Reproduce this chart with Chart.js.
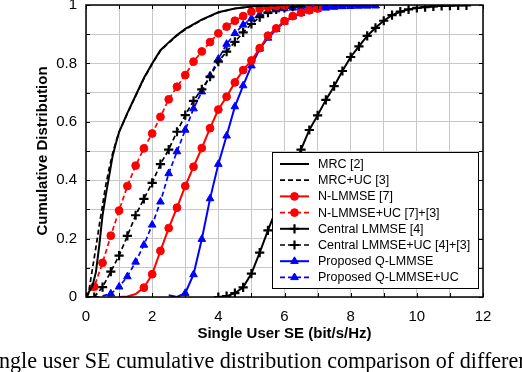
<!DOCTYPE html>
<html lang="en">
<head>
  <meta charset="UTF-8">
  <title>Single user SE cumulative distribution</title>
  <script src="https://cdn.jsdelivr.net/npm/chart.js"></script>
  <style>
    html, body { margin: 0; padding: 0; background: #fff; }
    #wrap { position: relative; width: 522px; height: 372px; overflow: hidden; }
    #caption {
      position: absolute; left: -19.5px; top: 350px;
      font-family: "Liberation Serif", "Times New Roman", serif;
      font-size: 22.1px; line-height: 1; white-space: nowrap; color: #000;
    }
  </style>
</head>
<body>
  <div id="wrap">
    <canvas id="cdfChart" width="522" height="372"></canvas>
    <div id="caption">Single user SE cumulative distribution comparison of different</div>
  </div>

  <script>
    // values (x = SE in bit/s/Hz, y = CDF)
    const mrcX = [0, 0.1, 0.2, 0.3, 0.4, 0.5, 0.6, 0.7, 0.8, 0.9, 1.0, 1.25, 1.5, 1.75, 2.0, 2.25, 2.5, 2.75, 3.0, 3.5, 4.0, 4.5, 5.0, 5.5, 6.0];
    const mrcY = [0, 0.02, 0.04, 0.085, 0.175, 0.28, 0.35, 0.415, 0.48, 0.525, 0.565, 0.63, 0.69, 0.75, 0.80, 0.845, 0.872, 0.897, 0.918, 0.95, 0.975, 0.988, 0.995, 0.998, 1.0];

    const mrcUcX = [0, 0.05, 0.1, 0.2, 0.3, 0.4, 0.5, 0.6, 0.7, 0.8, 0.9, 1.0, 1.25, 1.5, 1.75, 2.0, 2.25, 2.5, 2.75, 3.0, 3.5, 4.0, 4.5, 5.0, 5.5, 6.0];
    const mrcUcY = [0, 0.005, 0.03, 0.1, 0.17, 0.245, 0.315, 0.385, 0.44, 0.49, 0.53, 0.565, 0.628, 0.688, 0.748, 0.798, 0.843, 0.87, 0.895, 0.916, 0.949, 0.974, 0.988, 0.995, 0.998, 1.0];

    const nlX = [1.0, 1.25, 1.5, 1.75, 2.0, 2.25, 2.5, 2.75, 3.0, 3.25, 3.5, 3.75, 4.0, 4.25, 4.5, 4.75, 5.0, 5.25, 5.5, 5.75, 6.0, 6.25, 6.5, 6.75, 7.0];
    const nlY = [0, 0.002, 0.01, 0.032, 0.078, 0.158, 0.236, 0.306, 0.38, 0.446, 0.51, 0.578, 0.642, 0.686, 0.735, 0.777, 0.81, 0.852, 0.895, 0.92, 0.945, 0.962, 0.974, 0.982, 0.988];

    const nlUcX = [0, 0.25, 0.5, 0.75, 1.0, 1.25, 1.5, 1.75, 2.0, 2.25, 2.5, 2.75, 3.0, 3.25, 3.5, 3.75, 4.0, 4.25, 4.5, 4.75, 5.0, 5.25, 5.5, 5.75, 6.0];
    const nlUcY = [0, 0.035, 0.117, 0.21, 0.296, 0.38, 0.45, 0.509, 0.56, 0.617, 0.677, 0.72, 0.76, 0.806, 0.841, 0.873, 0.903, 0.926, 0.946, 0.962, 0.977, 0.987, 0.992, 0.996, 0.998];

    const clX = [4.0, 4.25, 4.5, 4.75, 5.0, 5.25, 5.5, 5.75, 6.0, 6.25, 6.5, 6.75, 7.0, 7.25, 7.5, 7.75, 8.0, 8.25, 8.5, 8.75, 9.0, 9.25, 9.5, 9.75, 10.0, 10.25, 10.5, 10.75, 11.0, 11.25, 11.5];
    const clY = [0, 0.003, 0.013, 0.033, 0.08, 0.152, 0.228, 0.30, 0.37, 0.44, 0.505, 0.572, 0.622, 0.675, 0.722, 0.774, 0.822, 0.858, 0.894, 0.922, 0.946, 0.965, 0.977, 0.985, 0.99, 0.993, 0.995, 0.997, 0.998, 0.999, 0.999];

    const clUcX = [0, 0.25, 0.5, 0.75, 1.0, 1.25, 1.5, 1.75, 2.0, 2.25, 2.5, 2.75, 3.0, 3.25, 3.5, 3.75, 4.0, 4.25, 4.5, 4.75, 5.0, 5.25, 5.5, 5.75, 6.0, 6.25, 6.5];
    const clUcY = [0, 0.0, 0.034, 0.087, 0.142, 0.209, 0.28, 0.336, 0.391, 0.455, 0.505, 0.566, 0.623, 0.672, 0.711, 0.755, 0.806, 0.84, 0.874, 0.906, 0.935, 0.958, 0.974, 0.985, 0.99, 0.994, 0.997];

    const qlX = [2.5, 2.75, 3.0, 3.25, 3.5, 3.75, 4.0, 4.25, 4.5, 4.75, 5.0, 5.25, 5.5, 5.75, 6.0, 6.25, 6.5, 6.75, 7.0, 7.25, 7.5, 7.75, 8.0, 8.25, 8.5, 8.75];
    const qlY = [0.006, 0.0, 0.013, 0.077, 0.198, 0.337, 0.455, 0.552, 0.652, 0.724, 0.792, 0.85, 0.887, 0.917, 0.942, 0.96, 0.972, 0.98, 0.986, 0.99, 0.993, 0.995, 0.996, 0.997, 0.998, 0.998];

    const qlUcX = [0.5, 0.75, 1.0, 1.25, 1.5, 1.75, 2.0, 2.25, 2.5, 2.75, 3.0, 3.25, 3.5, 3.75, 4.0, 4.25, 4.5, 4.75, 5.0, 5.25, 5.5, 5.75, 6.0, 6.25, 6.5, 6.75, 7.0, 7.25, 7.5, 7.75, 8.0, 8.25, 8.5, 8.75];
    const qlUcY = [0.004, 0.011, 0.035, 0.07, 0.12, 0.178, 0.247, 0.326, 0.423, 0.498, 0.572, 0.645, 0.703, 0.758, 0.815, 0.866, 0.903, 0.932, 0.953, 0.968, 0.978, 0.984, 0.988, 0.99, 0.992, 0.993, 0.994, 0.995, 0.995, 0.996, 0.996, 0.997, 0.997, 0.998];

    const xTicks = [0, 2, 4, 6, 8, 10, 12];
    const yTicks = [0, 0.2, 0.4, 0.6, 0.8, 1];

    const markerSize = { circle: 3.9, cross: 4.6, triangle: 4.4 };

    function series(label, xs, ys, color, dashed, marker, markFrom) {
      return {
        label: label,
        data: xs.map((x, i) => ({ x: x, y: ys[i] })),
        borderColor: color,
        backgroundColor: color,
        borderWidth: dashed ? 1.7 : 2,
        borderDash: dashed ? [5, 3] : [],
        pointStyle: marker || 'circle',
        pointRadius: marker ? (c => (c.parsed && c.parsed.x >= markFrom ? markerSize[marker] : 0)) : 0,
        pointBorderWidth: marker === 'cross' ? 2.2 : 1,
        pointBorderColor: color,
        pointBackgroundColor: color,
        fill: false,
        tension: 0
      };
    }

    const datasets = [
      series('MRC [2]', mrcX, mrcY, '#000000', false, null, 0),
      series('MRC+UC [3]', mrcUcX, mrcUcY, '#000000', true, null, 0),
      series('N-LMMSE [7]', nlX, nlY, '#ff0000', false, 'circle', 1.75),
      series('N-LMMSE+UC [7]+[3]', nlUcX, nlUcY, '#ff0000', true, 'circle', 0.25),
      series('Central LMMSE [4]', clX, clY, '#000000', false, 'cross', 4.0),
      series('Central LMMSE+UC [4]+[3]', clUcX, clUcY, '#000000', true, 'cross', 0),
      series('Proposed Q-LMMSE', qlX, qlY, '#0000ff', false, 'triangle', 3.0),
      series('Proposed Q-LMMSE+UC', qlUcX, qlUcY, '#0000ff', true, 'triangle', 0.75)
    ];

    // box around the plot plus small inward ticks
    const framePlugin = {
      id: 'frame',
      afterDatasetsDraw(chart) {
        const { ctx, chartArea: a, scales: { x, y } } = chart;
        ctx.save();
        ctx.strokeStyle = '#000';
        ctx.lineWidth = 1;
        ctx.beginPath();
        x.ticks.forEach(t => {
          const px = Math.round(x.getPixelForValue(t.value)) + 0.5;
          ctx.moveTo(px, a.bottom); ctx.lineTo(px, a.bottom - 4);
          ctx.moveTo(px, a.top); ctx.lineTo(px, a.top + 4);
        });
        y.ticks.forEach(t => {
          const py = Math.round(y.getPixelForValue(t.value)) + 0.5;
          ctx.moveTo(a.left, py); ctx.lineTo(a.left + 4, py);
          ctx.moveTo(a.right, py); ctx.lineTo(a.right - 4, py);
        });
        ctx.stroke();
        ctx.lineWidth = 1.5;
        ctx.strokeRect(a.left, a.top, a.right - a.left, a.bottom - a.top);
        ctx.restore();
      }
    };

    // legend drawn inside the plot, lower right
    const boxLegend = {
      id: 'boxLegend',
      afterDatasetsDraw(chart) {
        const { ctx, chartArea: a } = chart;
        const w = 206, h = 136;
        const right = a.right - 5, bottom = a.bottom - 9;
        const left = right - w, top = bottom - h;
        ctx.save();
        ctx.fillStyle = '#fff';
        ctx.fillRect(left, top, w, h);
        ctx.strokeStyle = '#000';
        ctx.lineWidth = 1;
        ctx.strokeRect(left + 0.5, top + 0.5, w, h);
        ctx.font = '12.5px "Liberation Sans", Arial, sans-serif';
        ctx.textBaseline = 'middle';
        chart.data.datasets.forEach((ds, i) => {
          const cy = top + 12 + i * 16.2;
          const x0 = left + 8, x1 = left + 37;
          ctx.strokeStyle = ds.borderColor;
          ctx.lineWidth = ds.borderWidth;
          ctx.setLineDash(ds.borderDash);
          ctx.beginPath();
          ctx.moveTo(x0, cy); ctx.lineTo(x1, cy);
          ctx.stroke();
          ctx.setLineDash([]);
          if (typeof ds.pointRadius === 'function') {
            ctx.fillStyle = ds.backgroundColor;
            ctx.lineWidth = ds.pointBorderWidth;
            Chart.helpers.drawPoint(ctx, {
              pointStyle: ds.pointStyle,
              radius: markerSize[ds.pointStyle],
              rotation: 0,
              borderWidth: ds.pointBorderWidth
            }, (x0 + x1) / 2, cy);
          }
          ctx.fillStyle = '#000';
          ctx.fillText(ds.label, left + 46, cy + 0.5);
        });
        ctx.restore();
      }
    };

    Chart.register(framePlugin, boxLegend);

    new Chart(document.getElementById('cdfChart').getContext('2d'), {
      type: 'line',
      data: { datasets: datasets },
      options: {
        responsive: false,
        animation: false,
        events: [],
        layout: { autoPadding: false, padding: { left: 34, right: 39, top: 5, bottom: 29 } },
        plugins: { legend: { display: false }, tooltip: { enabled: false } },
        font: { family: '"Liberation Sans", Arial, sans-serif' },
        scales: {
          x: {
            type: 'linear',
            min: 0, max: 12,
            grid: { color: '#c8c8c8', lineWidth: 1, drawTicks: false },
            border: { display: false },
            ticks: {
              stepSize: 1,
              padding: 11,
              maxRotation: 0,
              color: '#000',
              font: { family: '"Liberation Sans", Arial, sans-serif', size: 15 },
              callback: v => (xTicks.includes(v) ? String(v) : '')
            },
            title: {
              display: true,
              text: 'Single User SE (bit/s/Hz)',
              color: '#000',
              padding: 0,
              font: { family: '"Liberation Sans", Arial, sans-serif', size: 15, weight: 'bold' }
            },
            afterFit: s => { s.height = 46; s.paddingLeft = 0; s.paddingRight = 0; }
          },
          y: {
            type: 'linear',
            min: 0, max: 1,
            grid: { color: '#c8c8c8', lineWidth: 1, drawTicks: false },
            border: { display: false },
            ticks: {
              stepSize: 0.1,
              padding: 9,
              color: '#000',
              font: { family: '"Liberation Sans", Arial, sans-serif', size: 15 },
              callback: v => {
                const r = Math.round(v * 10) / 10;
                return yTicks.includes(r) ? String(r) : '';
              }
            },
            title: {
              display: true,
              text: 'Cumulative Distribution',
              color: '#000',
              padding: 0,
              font: { family: '"Liberation Sans", Arial, sans-serif', size: 15, weight: 'bold' }
            },
            afterFit: s => { s.width = 52; s.paddingTop = 0; s.paddingBottom = 0; }
          }
        }
      }
    });
  </script>
</body>
</html>
